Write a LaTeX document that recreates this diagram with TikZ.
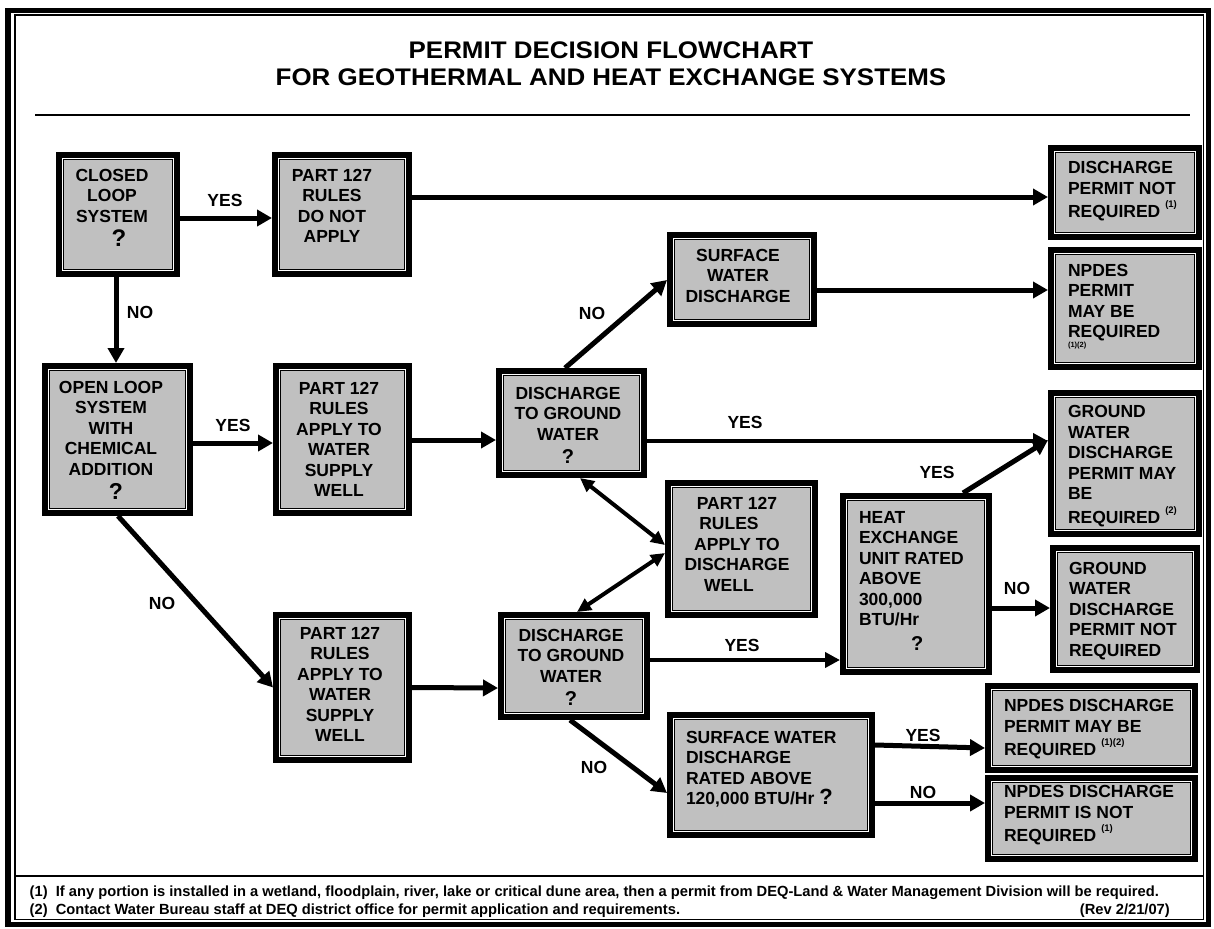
\documentclass[tikz,border=0pt]{standalone}
\usepackage{fontspec}
\usepackage{graphicx}
\setmainfont{Liberation Sans}
\newfontfamily\titlefont[FakeStretch=1.08]{Liberation Sans}
\usetikzlibrary{arrows.meta}
\definecolor{boxgray}{RGB}{192,192,192}
% centred text block: #1 = twice the x offset, #2 = raise
\newcommand\boxc[3]{\makebox[0pt]{\hspace*{#1}\raisebox{#2}[\height][\depth]{\begin{tabular}{@{}c@{}}#3\end{tabular}}}}
% left text block: #1 = left edge relative to centre, #2 = raise
\newcommand\boxl[3]{\makebox[0pt][l]{\hspace*{#1}\raisebox{#2}[\height][\depth]{\begin{tabular}{@{}l@{}}#3\end{tabular}}}}
\newcommand\sups[1]{\raisebox{10pt}{\fontsize{9.5}{9.5}\selectfont #1}}
\newcommand\qm[1]{\smash{\fontsize{#1}{#1}\selectfont ?}}
\tikzset{
  box/.style={rectangle, draw=black, line width=8pt, fill=boxgray, inner sep=0pt, outer sep=4pt,
    font=\bfseries\fontsize{17.5}{20.5}\selectfont},
  lbl/.style={inner sep=0pt, font=\bfseries\fontsize{17.5}{20}\selectfont},
  foot/.style={inner sep=0pt, font=\bfseries\fontsize{14.7}{18}\selectfont},
  arr/.style={line width=5pt, -{Triangle[length=15pt,width=16pt]}},
  arrthin/.style={line width=3.8pt, -{Triangle[length=15pt,width=15pt]}},
  darr/.style={line width=4pt, {Triangle[length=14pt,width=13pt]}-{Triangle[length=14pt,width=13pt]}},
}
\begin{document}
\begin{tikzpicture}[x=1pt,y=-1pt]
\useasboundingbox (0,0) rectangle (1214,928);
\fill[white] (0,0) rectangle (1214,928);
% frame
\draw[line width=5.5pt] (8,10.3) rectangle (1208.5,924.5);
\draw[line width=1.3pt] (15,15) rectangle (1203.5,919.5);
\draw[line width=1.3pt] (15,876) -- (1203.5,876);
% title
\node[inner sep=0pt, align=center, font=\titlefont\bfseries\fontsize{24}{27.5}\selectfont] (title) at (611,63.75)
  {PERMIT DECISION FLOWCHART\\FOR GEOTHERMAL AND HEAT EXCHANGE SYSTEMS};
\draw[line width=2pt] (35,115) -- (1190,115);

% boxes
\node[box, minimum width=116pt, minimum height=117pt] (closed) at (118,214.5)
  {\boxc{-12pt}{4.6pt}{CLOSED\\LOOP\\SYSTEM\\[4pt]\hspace*{14pt}\qm{24}}};
\node[box, minimum width=132pt, minimum height=117pt] (donot) at (342,214.5)
  {\boxc{-20pt}{6.6pt}{PART 127\\RULES\\DO NOT\\APPLY}};
\node[box, minimum width=143pt, minimum height=145pt] (open) at (117.5,439.5)
  {\boxc{-13pt}{-2.9pt}{OPEN LOOP\\SYSTEM\\WITH\\CHEMICAL\\ADDITION\\[4pt]\hspace*{10pt}\qm{23}}};
\node[box, minimum width=131pt, minimum height=145pt] (part1) at (342.5,439.5)
  {\boxc{-7pt}{-1.9pt}{PART 127\\RULES\\APPLY TO\\WATER\\SUPPLY\\WELL}};
\node[box, minimum width=131pt, minimum height=143pt] (part2) at (342.5,687.5)
  {\boxc{-5pt}{1.1pt}{PART 127\\RULES\\APPLY TO\\WATER\\SUPPLY\\WELL}};
\node[box, minimum width=142pt, minimum height=87pt] (swd) at (742,279.5)
  {\boxc{-8pt}{1.85pt}{SURFACE\\WATER\\DISCHARGE}};
\node[box, minimum width=143pt, minimum height=102pt] (dgw1) at (571.5,423)
  {\boxc{-7pt}{-4.15pt}{DISCHARGE\\TO GROUND\\WATER\\[2.5pt]\qm{20}}};
\node[box, minimum width=144pt, minimum height=100pt] (dgw2) at (574,666)
  {\boxc{-6pt}{-3.15pt}{DISCHARGE\\TO GROUND\\WATER\\[2.5pt]\qm{20}}};
\node[box, minimum width=145pt, minimum height=130pt] (dw) at (741.5,549)
  {\boxc{-9pt}{2.85pt}{PART 127\\RULES\hspace*{16pt}\\APPLY TO\\DISCHARGE\\WELL\hspace*{16pt}}};
\node[box, minimum width=146pt, minimum height=87pt] (dpnr) at (1125,192.5)
  {\boxl{-57pt}{0.85pt}{DISCHARGE\\PERMIT NOT\\REQUIRED \sups{(1)}}};
\node[box, minimum width=146pt, minimum height=115pt] (npm) at (1125,308.5)
  {\boxl{-57pt}{5.6pt}{NPDES\\PERMIT\\MAY BE\\\makebox[0pt][l]{\smash{\raisebox{-10pt}{\fontsize{7.5}{7.5}\selectfont (1)(2)}}}REQUIRED}};
\node[box, minimum width=146pt, minimum height=139pt] (gwm) at (1125,463.5)
  {\boxl{-57pt}{-2.9pt}{GROUND\\WATER\\DISCHARGE\\PERMIT MAY\\BE\\REQUIRED \sups{(2)}}};
\node[box, minimum width=144pt, minimum height=174pt] (heat) at (916,584)
  {\boxl{-57pt}{1.35pt}{HEAT\\EXCHANGE\\UNIT RATED\\ABOVE\\300,000\\BTU/Hr\\[4pt]\hspace*{52pt}\qm{20}}};
\node[box, minimum width=142pt, minimum height=120pt] (gwn) at (1125,609)
  {\boxl{-56pt}{-2.15pt}{GROUND\\WATER\\DISCHARGE\\PERMIT NOT\\REQUIRED}};
\node[box, minimum width=205pt, minimum height=82pt] (npm2) at (1091.5,728)
  {\boxl{-87.5pt}{-1.65pt}{NPDES DISCHARGE\\PERMIT MAY BE\\REQUIRED \sups{(1)(2)}}};
\node[box, minimum width=205pt, minimum height=79pt] (npn) at (1091.5,818.5)
  {\boxl{-87.5pt}{2.85pt}{NPDES DISCHARGE\\PERMIT IS NOT\\REQUIRED \sups{(1)}}};
\node[box, minimum width=200pt, minimum height=118pt] (swra) at (771,775)
  {\boxl{-85pt}{5.1pt}{SURFACE WATER\\DISCHARGE\\RATED ABOVE\\120,000 BTU/Hr \qm{22}}};

% thin inner rule of each box
\foreach \n in {closed,donot,open,part1,part2,swd,dgw1,dgw2,dw,dpnr,npm,gwm,heat,gwn,npm2,npn,swra}
  \draw[white, line width=0.8pt] ([shift={(6.4pt,-6.4pt)}]\n.north west) rectangle ([shift={(-6.4pt,6.4pt)}]\n.south east);

% connectors
\draw[arr] ([yshift=-3.5pt]closed.east) -- ([yshift=-3.5pt]donot.west);
\draw[arr] ([yshift=17.5pt]donot.east) -- ([yshift=-4.5pt]dpnr.west);
\draw[arr] ([xshift=-2pt]closed.south) -- ([xshift=-1.5pt]open.north);
\draw[arr] ([yshift=-3.5pt]open.east) -- ([yshift=-3.5pt]part1.west);
\draw[arr] ([yshift=-0.5pt]part1.east) -- ([yshift=-17pt]dgw1.west);
\draw[arr] ([xshift=-6.5pt]dgw1.north) -- ([yshift=-0.5pt]swd.west);
\draw[arr] ([yshift=-10.5pt]swd.east) -- ([yshift=18.5pt]npm.west);
\draw[arrthin] ([yshift=-18pt]dgw1.east) -- ([yshift=22.5pt]gwm.west);
\draw[darr] ([xshift=8.5pt]dgw1.south) -- ([yshift=4pt]dw.west);
\draw[darr] ([xshift=3pt]dgw2.north) -- ([yshift=-4pt]dw.west);
\draw[arr] ([xshift=0.5pt]open.south) -- (part2.west);
\draw[arr] (part2.east) -- ([yshift=-22pt]dgw2.west);
\draw[arrthin] ([yshift=6pt]dgw2.east) -- ([yshift=-76pt]heat.west);
\draw[arr] ([xshift=47pt]heat.north) -- ([yshift=23.5pt]gwm.west);
\draw[arr] ([yshift=-24pt]heat.east) -- ([yshift=1pt]gwn.west);
\draw[arr] ([xshift=-4pt]dgw2.south) -- ([yshift=-18pt]swra.west);
\draw[arr] ([yshift=30pt]swra.east) -- ([yshift=-20pt]npm2.west);
\draw[arr] ([yshift=-28pt]swra.east) -- ([yshift=15.5pt]npn.west);

% connector labels
\node[lbl] (l1) at (225,200) {YES};
\node[lbl] (l2) at (140,312) {NO};
\node[lbl] (l3) at (233,425) {YES};
\node[lbl] (l4) at (592,313) {NO};
\node[lbl] (l5) at (745,422) {YES};
\node[lbl] (l6) at (937,472) {YES};
\node[lbl] (l7) at (162,603) {NO};
\node[lbl] (l8) at (742,645) {YES};
\node[lbl] (l9) at (1017,588) {NO};
\node[lbl] (l10) at (594,767) {NO};
\node[lbl] (l11) at (923,735) {YES};
\node[lbl] (l12) at (923,792) {NO};

% footnotes
\node[foot, anchor=base west] (fn1) at (29.5,896.2)
  {(1)\ \ If any portion is installed in a wetland, floodplain, river, lake or critical dune area, then a permit from DEQ-Land \& Water Management Division will be required.};
\node[foot, anchor=base west] (fn2) at (29.5,914.2)
  {(2)\ \ Contact Water Bureau staff at DEQ district office for permit application and requirements.};
\node[foot, anchor=base east] (rev) at (1170,914.2) {(Rev 2/21/07)};
\end{tikzpicture}
\end{document}
